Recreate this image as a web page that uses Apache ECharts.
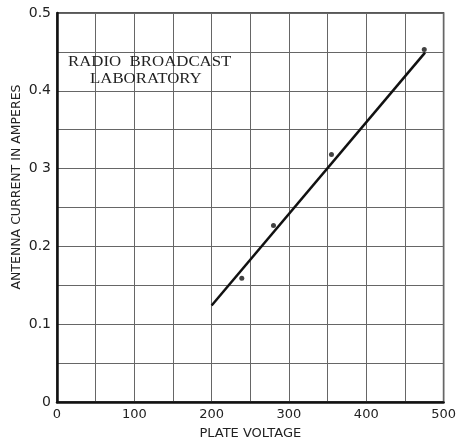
<!DOCTYPE html>
<html>
<head>
<meta charset="utf-8">
<script src="https://cdn.jsdelivr.net/npm/echarts@6/dist/echarts.min.js"></script>
<style>
html,body{margin:0;padding:0;background:#fff;}
#chart{width:459px;height:445px;}
</style>
</head>
<body>
<div id="chart"></div>
<script>
// Tick labels
var xTickValues = [0, 100, 200, 300, 400, 500];
var xTickLabels = ['0', '100', '200', '300', '400', '500'];
var yTickValues = [0, 0.1, 0.2, 0.3, 0.4, 0.5];
var yTickLabels = ['0', '0.1', '0.2', '0 3', '0.4', '0.5'];

// Plate voltage vs antenna current: measured points
var pointVoltage = [239, 280, 355, 475];
var pointCurrent = [0.159, 0.227, 0.318, 0.453];

// Fitted straight line
var lineVoltage = [200, 476];
var lineCurrent = [0.124, 0.449];

var xTitle = 'PLATE VOLTAGE';
var yTitle = 'ANTENNA CURRENT IN AMPERES';
var labText = ['RADIO  BROADCAST', 'LABORATORY'];

function lookup(values, labels, v) {
  for (var i = 0; i < values.length; i++) {
    if (Math.abs(values[i] - v) < 1e-6) return labels[i];
  }
  return '';
}

var chart = echarts.init(document.getElementById('chart'), null, {renderer: 'canvas'});
var gridLine = {show: true, lineStyle: {color: '#666', width: 1}};
var sans = '"DejaVu Sans", sans-serif';
var option = {
  backgroundColor: '#ffffff',
  animation: false,
  grid: {left: 57, top: 13, right: 9, bottom: 40, show: true, borderColor: '#222', borderWidth: 1.5, backgroundColor: 'transparent'},
  xAxis: {
    type: 'value', min: 0, max: 500, interval: 100,
    name: xTitle, nameLocation: 'middle', nameGap: 25,
    nameTextStyle: {fontFamily: sans, fontSize: 13, color: '#222'},
    axisLine: {show: true, onZero: false, lineStyle: {color: '#111', width: 2.5}},
    axisTick: {show: false},
    axisLabel: {margin: 6, fontFamily: sans, fontSize: 13, color: '#222',
      formatter: function (v) { return lookup(xTickValues, xTickLabels, v); }},
    splitLine: gridLine,
    minorTick: {show: false, splitNumber: 2},
    minorSplitLine: gridLine
  },
  yAxis: {
    type: 'value', min: 0, max: 0.5, interval: 0.1,
    axisLine: {show: true, onZero: false, lineStyle: {color: '#111', width: 2.5}},
    axisTick: {show: false},
    axisLabel: {margin: 6, fontFamily: sans, fontSize: 14, color: '#222',
      formatter: function (v) { return lookup(yTickValues, yTickLabels, v); }},
    splitLine: gridLine,
    minorTick: {show: false, splitNumber: 2},
    minorSplitLine: gridLine
  },
  series: [
    {
      type: 'line',
      data: lineVoltage.map(function (x, i) { return [x, lineCurrent[i]]; }),
      showSymbol: false, symbol: 'none',
      lineStyle: {color: '#111', width: 2.5},
      z: 3
    },
    {
      type: 'scatter',
      data: pointVoltage.map(function (x, i) { return [x, pointCurrent[i]]; }),
      symbol: 'circle', symbolSize: 5,
      itemStyle: {color: '#111'},
      z: 4
    }
  ],
  graphic: [
    {
      type: 'text', x: 17, y: 187, rotation: Math.PI / 2, z: 10,
      style: {text: yTitle, font: '12.5px "DejaVu Sans", sans-serif', fill: '#222', textAlign: 'center', textVerticalAlign: 'middle'}
    },
    {
      type: 'text', x: 68, y: 55, scaleX: 1.12, z: 10,
      style: {text: labText[0], font: '15px "Liberation Serif", "DejaVu Serif", serif', fill: '#222'}
    },
    {
      type: 'text', x: 90, y: 72, scaleX: 1.12, z: 10,
      style: {text: labText[1], font: '15px "Liberation Serif", "DejaVu Serif", serif', fill: '#222'}
    }
  ]
};
chart.setOption(option);
</script>
</body>
</html>
